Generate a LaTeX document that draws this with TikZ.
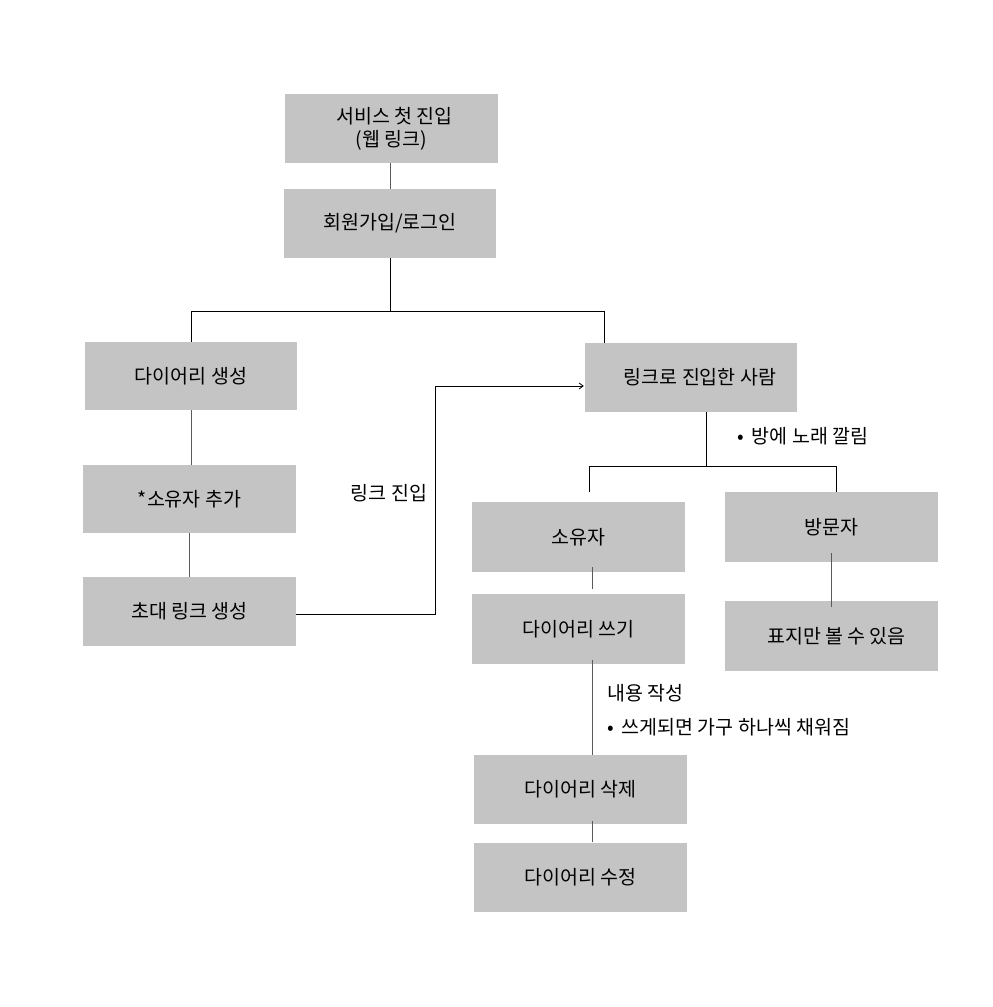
\documentclass[tikz,border=0pt]{standalone}
\usepackage{fontspec}
\setmainfont{Noto Sans CJK KR}
\usetikzlibrary{arrows.meta}
\definecolor{boxgray}{RGB}{196,196,196}
\definecolor{lnk}{RGB}{90,90,90}
\tikzset{
  box/.style={fill=boxgray, draw=none, inner sep=0pt, minimum width=213pt, minimum height=69pt, align=center, font=\fontsize{19.5}{23}\selectfont, text=black},
  vline/.style={draw=lnk, line width=1pt},
  bline/.style={draw=black, line width=0.9pt},
  arr/.style={draw=black, line width=0.8pt, -{Straight Barb[length=4pt,width=6pt]}},
  lbl/.style={inner sep=0pt, font=\fontsize{19.5}{23}\selectfont, text=black},
}
\begin{document}
\begin{tikzpicture}[x=1pt,y=-1pt]
\useasboundingbox[fill=white] (0,0) rectangle (993,1007);
% boxes
\node[box] (b1) at (391.5,128.5) {\hspace{6pt}서비스 첫 진입\\(웹 링크)};
\node[box, minimum width=212pt] (b2) at (390,223.5) {회원가입/로그인};
\node[box, minimum width=212pt, minimum height=68pt] (c1) at (191,376) {다이어리 생성};
\node[box, minimum height=68pt] (c2) at (189.5,499) {*소유자 추가};
\node[box] (c3) at (189.5,611.5) {초대 링크 생성};
\node[box, minimum width=212pt] (r1) at (691,377.5) {\hspace{18pt}링크로 진입한 사람};
\node[box, minimum height=70pt] (o1) at (578.5,537) {소유자};
\node[box, minimum height=70pt] (v1) at (831.5,527) {방문자};
\node[box, minimum height=70pt] (o2) at (578.5,629) {다이어리 쓰기};
\node[box, minimum height=70pt] (v2) at (831.5,636) {\hspace{10pt}표지만 볼 수 있음};
\node[box] (d1) at (580.5,789.5) {다이어리 삭제};
\node[box] (d2) at (580.5,877.5) {다이어리 수정};
% labels
\node[lbl] (l1) at (389,493) {링크 진입};
\node[lbl, anchor=west] (l2) at (737,436) {•\hspace{8pt}방에 노래 깔림};
\node[lbl, anchor=west] (l3) at (607,693) {내용 작성};
\node[lbl, anchor=west] (l4) at (607,727) {•\hspace{8pt}쓰게되면 가구 하나씩 채워짐};
% junctions
\coordinate (j1) at (390.5,311.5);
\coordinate (j2) at (706,466);
\coordinate (ax) at (435,0);
% top chain
\draw[vline] (b1.south -| j1) -- (b2.north -| j1);
\draw[bline] (b2.south -| j1) -- (j1);
\draw[bline] (c1.north) |- (j1) -| ([xshift=20pt]r1.north west);
% left chain
\draw[vline] (c1.south) -- (c2.north -| c1.south);
\draw[vline] (c2.south) -- (c3.north);
% arrow
\coordinate (ain) at ([xshift=-1pt,yshift=-8.5pt]r1.west);
\draw[arr] ([yshift=-2.5pt]c3.east) -| (ax |- ain) -- (ain);
% right split
\draw[bline] ([xshift=15pt]r1.south) -- (j2);
\draw[bline] (j2) -| ([xshift=10.5pt,yshift=10pt]o1.north);
\draw[bline] (j2) -| ([xshift=4.5pt]v1.north);
% owner chain
\draw[vline] ([xshift=13.5pt,yshift=5pt]o1.south) -- ([xshift=13.5pt,yshift=5pt]o2.north);
\draw[vline] ([xshift=13.5pt,yshift=4pt]o2.south) -- ([xshift=13.5pt]o2.south |- d1.north);
\draw[vline] ([xshift=11.5pt,yshift=3pt]d1.south) -- ([xshift=11.5pt,yshift=1pt]d2.north);
% visitor chain
\draw[vline] ([yshift=9pt]v1.south) -- ([yshift=-6pt]v2.north);
\end{tikzpicture}
\end{document}
